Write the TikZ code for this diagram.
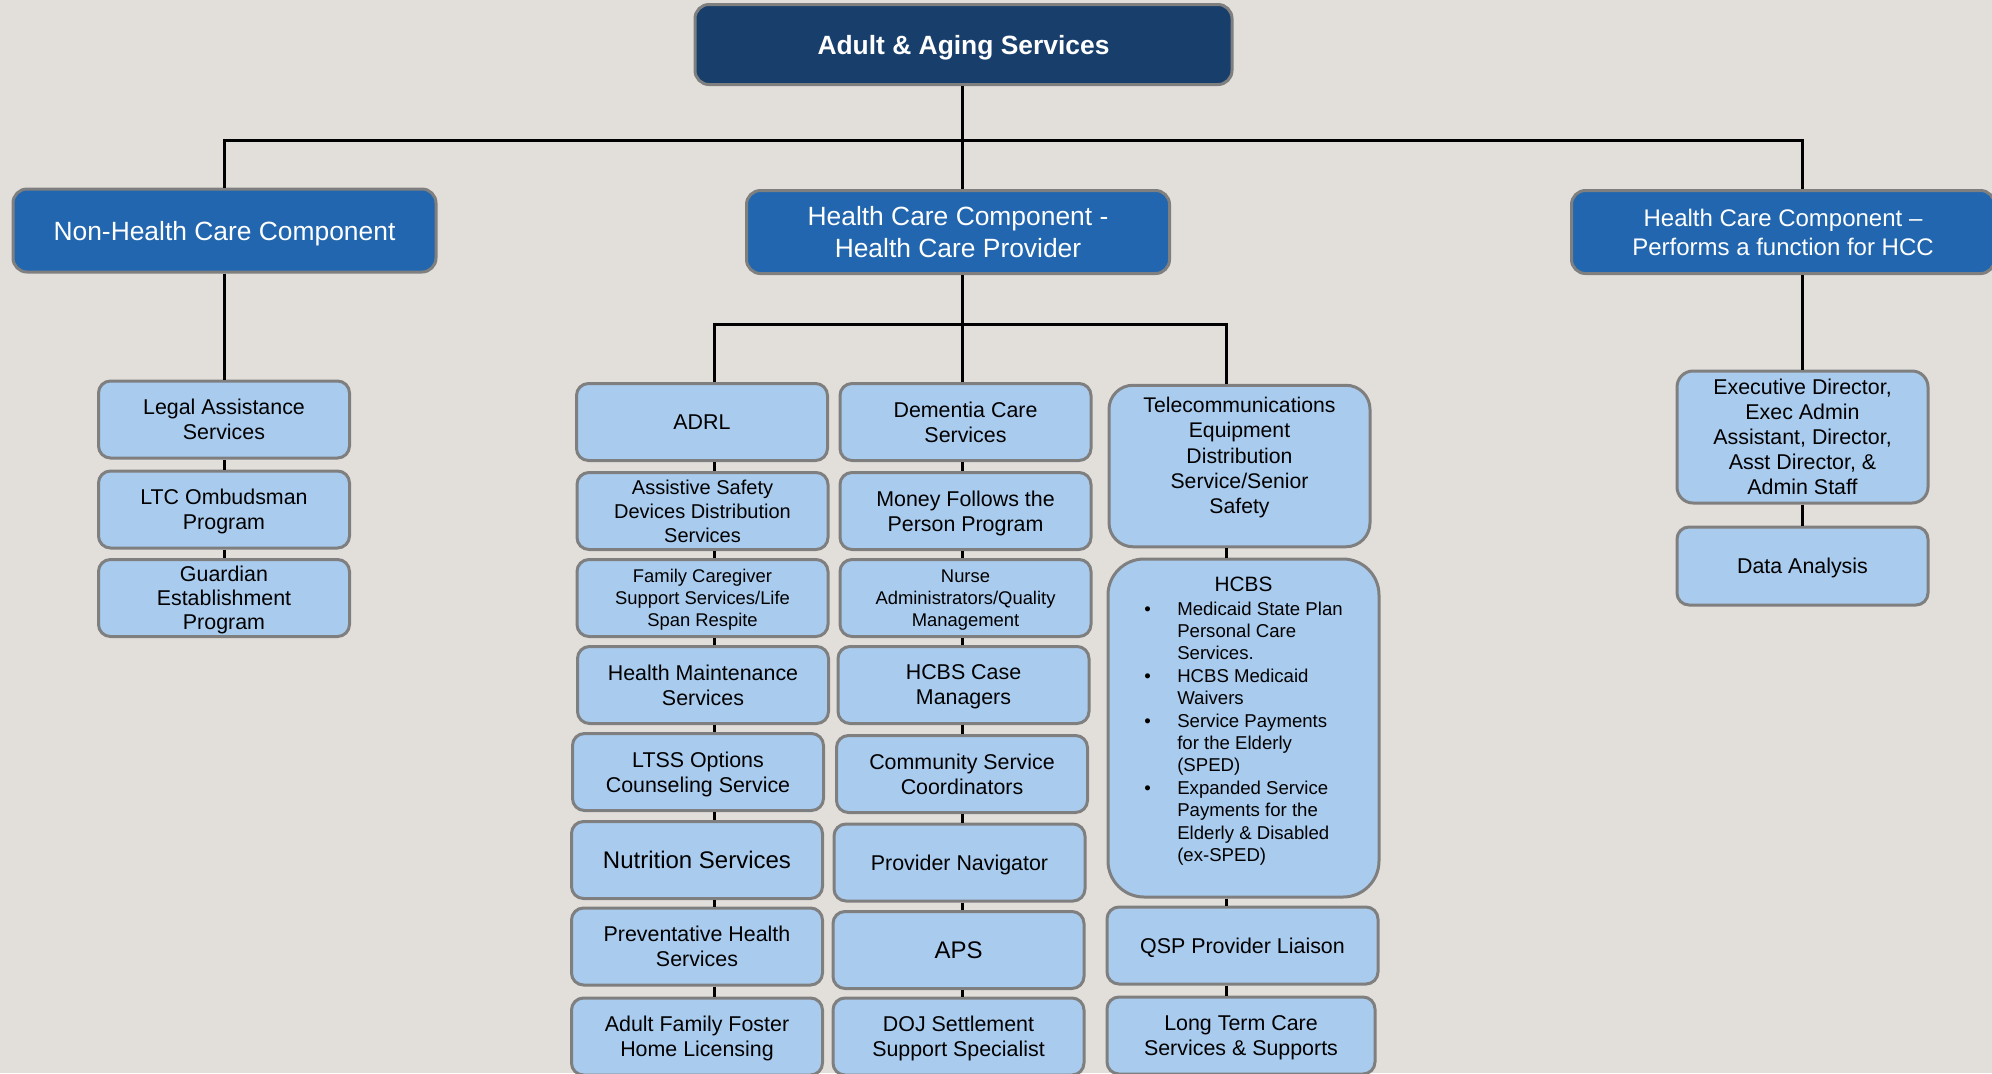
\documentclass[tikz,border=0pt]{standalone}
\usepackage{fontspec}
\setmainfont{Liberation Sans}
\usetikzlibrary{calc}
\definecolor{bgcol}{HTML}{E2DFDB}
\definecolor{navy}{HTML}{183E6B}
\definecolor{midblue}{HTML}{2166AE}
\definecolor{paleblue}{HTML}{A9CBEE}
\definecolor{rim}{HTML}{7F7F7F}

\begin{document}
\begin{tikzpicture}[x=.5pt,y=-.5pt,
  wire/.style={line width=1.5pt},
  card/.style={draw=rim,line width=1.5pt,rounded corners=6pt,inner sep=0pt,align=center,text depth=0pt},
  headbox/.style={card,fill=navy,text=white,font=\fontsize{13.2}{16}\selectfont\bfseries,minimum width=268.5pt,minimum height=40pt,rounded corners=7pt},
  compbox/.style={card,fill=midblue,text=white,font=\fontsize{13.2}{15.9}\selectfont,minimum width=211.5pt,minimum height=41.5pt,rounded corners=7pt},
  unit/.style={card,fill=paleblue,font=\fontsize{10.7}{12.5}\selectfont,minimum width=125.5pt,minimum height=38.5pt}]
\useasboundingbox (0,0) rectangle (1992,1073);
\clip (0,0) rectangle (1992,1073);
\fill[bgcol] (0,0) rectangle (1992,1073);
% Top levels
\node[headbox] (top) at (963.5,44.5) {Adult \& Aging Services};
\node[compbox] (nhc) at (224.5,230.5) {Non-Health Care Component};
\node[compbox] (hccp) at (958,232) {Health Care Component -\\Health Care Provider};
\node[compbox,font=\fontsize{12}{14.7}\selectfont] (hcf) at (1783,232) {Health Care Component –\\Performs a function for HCC};
% Non-health column
\node[unit] (legal) at (224,419.5) {Legal Assistance\\Services};
\node[unit] (ltcomb) at (224,509.5) {LTC Ombudsman\\Program};
\node[unit,font=\fontsize{10.7}{12}\selectfont] (guard) at (224,598) {Guardian\\Establishment\\Program};
% Provider, first column
\node[unit] (adrl) at (702,422) {ADRL};
\node[unit,font=\fontsize{10}{12}\selectfont] (asd) at (702.5,511) {Assistive Safety\\Devices Distribution\\Services};
\node[unit,font=\fontsize{9.2}{11}\selectfont] (fcs) at (702.5,598) {Family Caregiver\\Support Services/Life\\Span Respite};
\node[unit] (hms) at (703,685) {Health Maintenance\\Services};
\node[unit] (ltss) at (698,772) {LTSS Options\\Counseling Service};
\node[unit,font=\fontsize{12}{14}\selectfont] (nutr) at (697,860) {Nutrition Services};
\node[unit] (prev) at (697,946.5) {Preventative Health\\Services};
\node[unit] (afh) at (697,1036.5) {Adult Family Foster\\Home Licensing};
% Provider, second column
\node[unit] (dcs) at (965.5,422) {Dementia Care\\Services};
\node[unit] (mfp) at (965.5,511) {Money Follows the\\Person Program};
\node[unit,font=\fontsize{9.2}{11}\selectfont] (nurse) at (965.5,598) {Nurse\\Administrators/Quality\\Management};
\node[unit] (hcm) at (963.5,685) {HCBS Case\\Managers};
\node[unit] (csc) at (962,774) {Community Service\\Coordinators};
\node[unit] (pnav) at (959.5,862.5) {Provider Navigator};
\node[unit,font=\fontsize{12}{14}\selectfont] (aps) at (958.5,950) {APS};
\node[unit] (doj) at (958.5,1036.5) {DOJ Settlement\\Support Specialist};
% Provider, third column
\node[unit,minimum width=130.5pt,minimum height=80.75pt,rounded corners=12pt,text depth=10.5pt,font=\fontsize{10.6}{12.7}\selectfont] (teds) at (1239.5,466)
  {Telecommunications\\Equipment\\Distribution\\Service/Senior\\Safety};
\node[unit,minimum width=135.5pt,minimum height=169pt,rounded corners=18pt,text depth=9pt,font=\fontsize{10.4}{12.5}\selectfont] (hcbs) at (1243.5,728)
  {HCBS\\[3pt]
   {\fontsize{9.3}{11.2}\selectfont
   \begin{tabular}[b]{@{}p{16.5pt}@{}l@{}}
   \textbullet & Medicaid State Plan\\
   & Personal Care\\
   & Services.\\
   \textbullet & HCBS Medicaid\\
   & Waivers\\
   \textbullet & Service Payments\\
   & for the Elderly\\
   & (SPED)\\
   \textbullet & Expanded Service\\
   & Payments for the\\
   & Elderly \& Disabled\\
   & (ex-SPED)
   \end{tabular}}};
\node[unit,minimum width=135.5pt] (qsp) at (1242.5,945.5) {QSP Provider Liaison};
\node[unit,minimum width=134pt] (ltcss) at (1241,1035.5) {Long Term Care\\Services \& Supports};
% HCC function column
\node[unit,minimum height=66pt,rounded corners=8pt] (exec) at (1802.5,437)
  {Executive Director,\\Exec Admin\\Assistant, Director,\\Asst Director, \&\\Admin Staff};
\node[unit,minimum height=39pt] (data) at (1802.5,566) {Data Analysis};
% Connectors
\coordinate (bus) at (962,140);
\coordinate (fork) at (962,324);
\coordinate (colA) at (714,0);
\coordinate (colB) at (962,0);
\coordinate (colC) at (1226.5,0);
\draw[wire] (top.south -| colB) -- (hccp.north -| colB);
\draw[wire] (nhc.north) |- (bus) -| (hcf.north -| exec.north);
\draw[wire] (hccp.south -| colB) -- (fork);
\draw[wire] (colA |- adrl.north) |- (fork) -| (colC |- teds.north);
\draw[wire] (fork) -- (colB |- dcs.north);
\draw[wire] (nhc.south) -- (nhc.south |- legal.north);
\foreach \ta/\tb in {legal/ltcomb,ltcomb/guard}
  \draw[wire] (\ta.south) -- (\ta.south |- \tb.north);
\foreach \ta/\tb in {adrl/asd,asd/fcs,fcs/hms,hms/ltss,ltss/nutr,nutr/prev,prev/afh}
  \draw[wire] (colA |- \ta.south) -- (colA |- \tb.north);
\foreach \ta/\tb in {dcs/mfp,mfp/nurse,nurse/hcm,hcm/csc,csc/pnav,pnav/aps,aps/doj}
  \draw[wire] (colB |- \ta.south) -- (colB |- \tb.north);
\foreach \ta/\tb in {teds/hcbs,hcbs/qsp,qsp/ltcss}
  \draw[wire] (colC |- \ta.south) -- (colC |- \tb.north);
\draw[wire] (exec.north) -- (exec.north |- hcf.south);
\draw[wire] (exec.south) -- (data.north);
\end{tikzpicture}
\end{document}
